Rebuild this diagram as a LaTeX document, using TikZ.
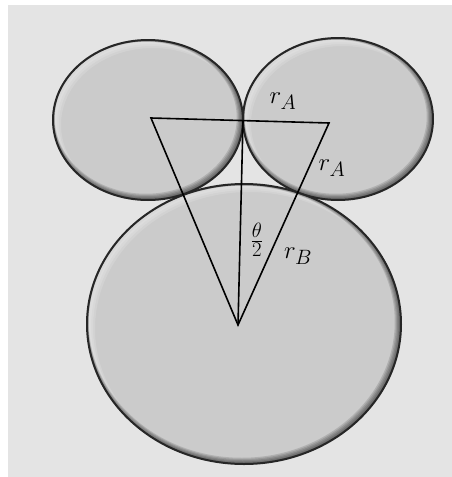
\documentclass[tikz,border=0pt]{standalone}
\usepackage{amsmath}
\usetikzlibrary{positioning}

\definecolor{panelgray}{HTML}{E4E4E4}
\definecolor{discgray}{HTML}{CBCBCB}

% disc with a soft bevel: #1 centre (x,y without brackets), #2 x radius, #3 y radius
\newcommand{\beveldisc}[3]{%
  \begin{scope}
    \clip (#1) ellipse [x radius=#2, y radius=#3];
    \fill[discgray] (#1) ellipse [x radius=#2, y radius=#3];
    \foreach \k in {1,...,4}
      \draw[white, opacity=0.15, line width=1.6*\k pt]
        ([shift={(1.2*\k,1.2*\k)}]#1) ellipse [x radius=#2, y radius=#3];
    \foreach \k in {1,...,5}
      \draw[black, opacity=0.13, line width=1.6*\k pt]
        ([shift={(-0.45*\k,-0.45*\k)}]#1) ellipse [x radius=#2, y radius=#3];
  \end{scope}
  \draw[rim] (#1) ellipse [x radius=#2, y radius=#3];
}

\tikzset{
  rim/.style={draw=black!85, line width=2pt},
  edge/.style={draw=black, line width=1.6pt, line join=miter},
  lbl/.style={inner sep=0pt, font=\fontsize{30}{32}\selectfont},
}

\begin{document}
\begin{tikzpicture}[x=1pt,y=-1pt]
  \useasboundingbox (0,0) rectangle (452,477);
  \fill[panelgray] (8,5) rectangle (452,477);

  % the three discs
  \beveldisc{244,324}{157}{140}
  \beveldisc{148,120}{95}{80}
  \beveldisc{338,119}{95}{81}

  % centres and contact point
  \coordinate (ca) at (151,118);
  \coordinate (cb) at (329,123);
  \coordinate (cc) at (238,325);
  \coordinate (tp) at (243,121);

  \draw[edge] (ca) -- (cb) -- (cc) -- cycle;
  \draw[edge] (tp) -- (cc);

  % labels
  \node[lbl] (ra1) at (283,101) {$r_A$};
  \node[lbl] (ra2) at (332,168) {$r_A$};
  \node[lbl] (half) at (257,240) {$\frac{\theta}{2}$};
  \node[lbl] (rb) at (298,256) {$r_B$};
\end{tikzpicture}
\end{document}
